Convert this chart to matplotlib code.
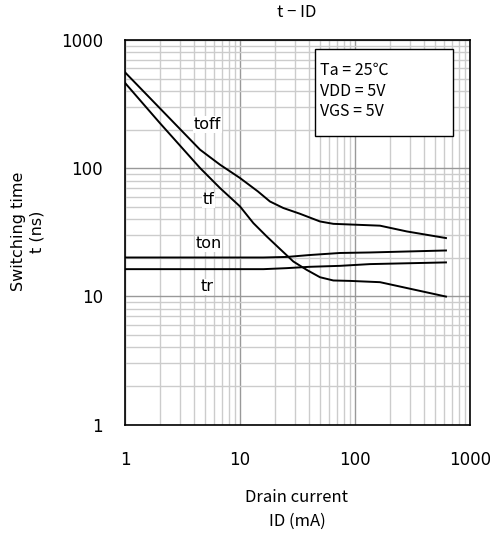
import matplotlib
matplotlib.use("Agg")
import matplotlib.pyplot as plt
from matplotlib.patches import Rectangle
from matplotlib.ticker import LogLocator, FixedLocator, NullFormatter

plt.rcParams['font.family'] = ['DejaVu Sans']
JP = ['Noto Sans CJK JP', 'DejaVu Sans']

# switching time vs drain current (Ta = 25C, VDD = 5V, VGS = 5V)
id_toff = [1, 4.49, 6.7, 10, 14.3, 18.2, 23.8, 33.2, 49.6, 64.8, 165, 282, 618]
t_toff = [560, 139.5, 106.5, 83.8, 65.9, 55.0, 48.9, 44.1, 38.4, 36.8, 35.6, 32.1, 28.5]

id_tf = [1, 2.01, 4.49, 6.7, 10, 13.06, 17.1, 22.3, 29.1, 38, 49.6, 64.8, 90.5, 165, 618]
t_tf = [463, 225, 100.4, 70, 50.3, 37.3, 29.3, 23.4, 18.7, 16.1, 14.1, 13.3, 13.2, 12.9, 9.96]

id_ton = [1, 16, 25.5, 40, 74, 135, 618]
t_ton = [20.1, 20.1, 20.3, 21.0, 21.8, 22.0, 22.8]

id_tr = [1, 16, 25.5, 40, 74, 135, 618]
t_tr = [16.3, 16.3, 16.6, 17.0, 17.3, 17.85, 18.4]

curve_labels = ["toff", "tf", "ton", "tr"]
label_x = [5.2, 5.3, 5.3, 5.2]
label_y = [219, 56.8, 25.7, 11.9]

cond_lines = ["Ta = 25\u2103", "VDD = 5V", "VGS = 5V"]

fig = plt.figure(figsize=(4.9, 5.35), dpi=100)
ax = fig.add_axes([0.2551, 0.2065, 0.7041, 0.7187])

ax.set_xscale('log')
ax.set_yscale('log')
ax.set_xlim(1, 1000)
ax.set_ylim(1, 1000)

ax.xaxis.set_major_locator(FixedLocator([1, 10, 100, 1000]))
ax.yaxis.set_major_locator(FixedLocator([1, 10, 100, 1000]))
ax.xaxis.set_minor_locator(LogLocator(base=10, subs=range(2, 10)))
ax.yaxis.set_minor_locator(LogLocator(base=10, subs=range(2, 10)))
ax.xaxis.set_minor_formatter(NullFormatter())
ax.yaxis.set_minor_formatter(NullFormatter())
ax.set_xticklabels(["1", "10", "100", "1000"])
ax.set_yticklabels(["1", "10", "100", "1000"])

ax.grid(which='minor', color='#cccccc', linewidth=1.0)
ax.grid(which='major', color='#999999', linewidth=1.0)
ax.set_axisbelow(True)
ax.tick_params(which='both', length=0, labelsize=12)
ax.tick_params(axis='x', pad=19)
ax.tick_params(axis='y', pad=16)
for s in ax.spines.values():
    s.set_linewidth(1.2)
    s.set_color('black')

for xs, ys in [(id_toff, t_toff), (id_tf, t_tf), (id_ton, t_ton), (id_tr, t_tr)]:
    ax.plot(xs, ys, color='black', linewidth=1.4, solid_joinstyle='round')

for name, lx, ly in zip(curve_labels, label_x, label_y):
    ax.text(lx, ly, name, fontsize=11.5, ha='center', va='center',
            bbox=dict(facecolor='white', edgecolor='none', pad=0.5))

# condition box
ax.add_patch(Rectangle((0.551, 0.750), 0.40, 0.227, transform=ax.transAxes,
                       facecolor='white', edgecolor='black', linewidth=1.0, zorder=3))
for txt, ty in zip(cond_lines, [0.922, 0.867, 0.815]):
    ax.text(0.566, ty, txt, transform=ax.transAxes, fontsize=11.5,
            ha='left', va='center', family=JP, zorder=4)

fig.text(0.606, 0.977, "t \u2212 ID", ha='center', va='center', fontsize=12, family=JP)
fig.text(0.606, 0.071, "Drain current", ha='center', va='center', fontsize=12, family=JP)
fig.text(0.606, 0.026, "ID (mA)", ha='center', va='center', fontsize=12, family=JP)
fig.text(0.057, 0.567, "Switching time\nt (ns)", ha='center', va='center',
         rotation=90, fontsize=11.5, linespacing=1.3)

fig.savefig("out.png", dpi=100)
